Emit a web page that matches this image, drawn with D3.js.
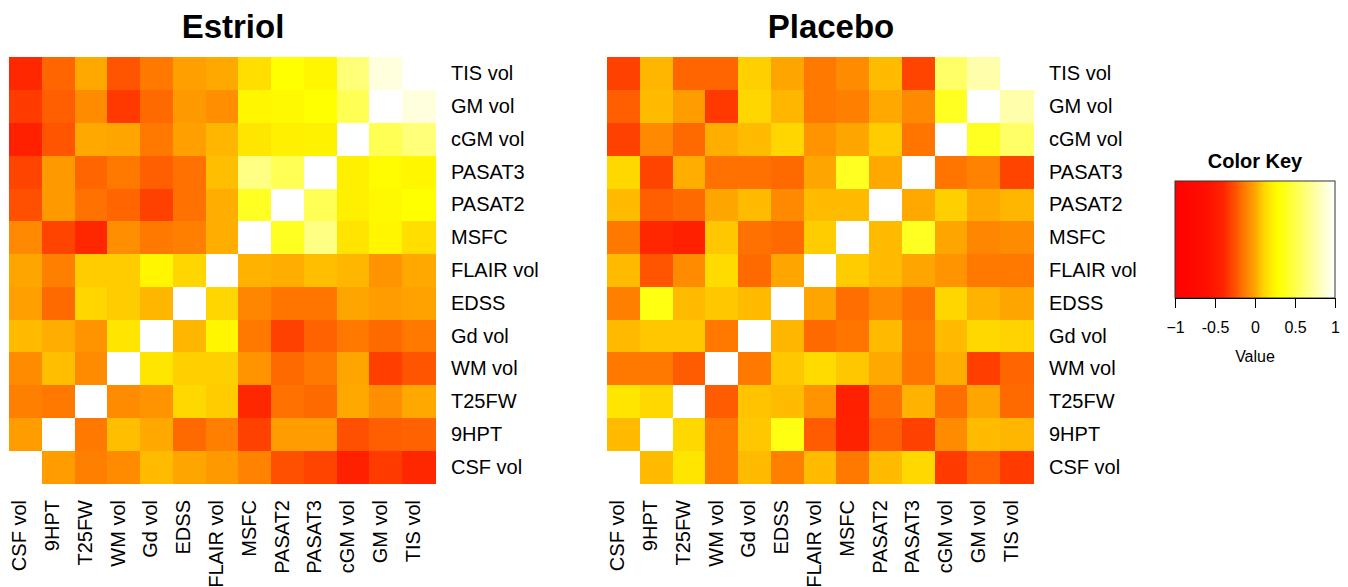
<!DOCTYPE html>
<html>
<head>
<meta charset="utf-8">
<script src="https://cdn.jsdelivr.net/npm/d3@7"></script>
<style>
  body { margin: 0; background: #fff; }
  text { font-family: "Liberation Sans", Arial, Helvetica, sans-serif; fill: #000; }
</style>
</head>
<body>
<div id="chart"></div>
<script>
// variables, in column order (left -> right); rows are drawn bottom -> top
const variables = ["CSF vol", "9HPT", "T25FW", "WM vol", "Gd vol", "EDSS", "FLAIR vol",
  "MSFC", "PASAT2", "PASAT3", "cGM vol", "GM vol", "TIS vol"];

// correlation matrices, row i / col j follow `variables`
const estriol = [
  [1, -0.03, -0.12, -0.08, 0.05, 0.00, -0.04, -0.11, -0.25, -0.29, -0.44, -0.32, -0.39],
  [-0.03, 1, -0.14, 0.06, 0.01, -0.18, -0.12, -0.30, -0.03, -0.03, -0.25, -0.21, -0.20],
  [-0.12, -0.14, 1, -0.08, -0.06, 0.13, 0.09, -0.39, -0.16, -0.18, 0.01, -0.07, 0.01],
  [-0.08, 0.06, -0.08, 1, 0.18, 0.10, 0.10, -0.06, -0.18, -0.14, 0.00, -0.31, -0.24],
  [0.05, 0.02, -0.06, 0.18, 1, 0.04, 0.25, -0.14, -0.30, -0.20, -0.14, -0.18, -0.14],
  [-0.02, -0.18, 0.12, 0.09, 0.04, 1, 0.12, -0.10, -0.15, -0.15, 0.00, -0.03, -0.01],
  [0.00, -0.12, 0.09, 0.09, 0.25, 0.12, 1, 0.03, 0.02, 0.06, 0.04, -0.06, 0.01],
  [-0.09, -0.29, -0.39, -0.07, -0.14, -0.12, 0.02, 1, 0.39, 0.66, 0.17, 0.25, 0.15],
  [-0.25, -0.04, -0.16, -0.19, -0.30, -0.16, 0.02, 0.39, 1, 0.53, 0.22, 0.27, 0.30],
  [-0.29, -0.04, -0.19, -0.14, -0.21, -0.16, 0.06, 0.66, 0.53, 1, 0.22, 0.28, 0.25],
  [-0.44, -0.24, 0.01, 0.00, -0.14, -0.02, 0.04, 0.18, 0.22, 0.23, 1, 0.53, 0.63],
  [-0.32, -0.21, -0.08, -0.33, -0.18, -0.04, -0.07, 0.25, 0.27, 0.30, 0.53, 1, 0.91],
  [-0.39, -0.19, 0.01, -0.24, -0.14, -0.02, 0.01, 0.15, 0.30, 0.25, 0.63, 0.91, 1]
];

const placebo = [
  [1, 0.05, 0.18, -0.14, 0.05, -0.12, 0.05, -0.14, 0.05, 0.13, -0.32, -0.21, -0.32],
  [0.05, 1, 0.13, -0.14, 0.08, 0.35, -0.22, -0.42, -0.21, -0.30, -0.08, 0.05, 0.04],
  [0.18, 0.13, 1, -0.22, 0.07, 0.05, -0.06, -0.44, -0.16, 0.03, -0.17, 0.00, -0.18],
  [-0.14, -0.14, -0.22, 1, -0.14, 0.08, 0.14, 0.08, 0.01, -0.15, 0.02, -0.31, -0.19],
  [0.05, 0.08, 0.08, -0.14, 1, 0.04, -0.18, -0.15, 0.05, -0.14, 0.05, 0.13, 0.11],
  [-0.12, 0.35, 0.05, 0.08, 0.05, 1, 0.00, -0.17, -0.09, -0.16, 0.12, 0.03, 0.00],
  [0.05, -0.24, -0.08, 0.14, -0.18, 0.00, 1, 0.09, 0.05, 0.00, -0.06, -0.14, -0.14],
  [-0.14, -0.39, -0.44, 0.08, -0.16, -0.18, 0.09, 1, 0.05, 0.39, 0.00, -0.10, -0.08],
  [0.05, -0.21, -0.18, 0.00, 0.05, -0.09, 0.05, 0.05, 1, 0.01, 0.10, 0.01, 0.04],
  [0.13, -0.29, 0.02, -0.16, -0.16, -0.18, 0.00, 0.39, 0.01, 1, -0.15, -0.11, -0.29],
  [-0.30, -0.09, -0.18, 0.02, 0.05, 0.12, -0.06, 0.00, 0.09, -0.15, 1, 0.39, 0.58],
  [-0.21, 0.05, -0.03, -0.33, 0.12, 0.04, -0.14, -0.12, 0.01, -0.09, 0.39, 1, 0.77],
  [-0.30, 0.04, -0.19, -0.19, 0.10, 0.00, -0.14, -0.08, 0.05, -0.29, 0.58, 0.77, 1]
];

const panelTitles = ["Estriol", "Placebo"];
const keyTicks = [-1, -0.5, 0, 0.5, 1];
const keyTickLabels = ["\u22121", "-0.5", "0", "0.5", "1"];

// heat-type colour key (red -> orange -> yellow -> white)
const colorScale = d3.scaleLinear()
  .domain([-1, -0.6, -0.4, -0.25, -0.12, 0, 0.1, 0.2, 0.3, 1])
  .range(["#ff0000", "#ff1000", "#ff2400", "#ff5000", "#ff8000", "#ffa500",
          "#ffd000", "#ffec00", "#ffff00", "#ffffff"])
  .clamp(true);

const width = 1348, height = 587;
const svg = d3.select("#chart").append("svg")
  .attr("width", width)
  .attr("height", height);

function drawHeatmap(matrix, title, left) {
  const top = 57, size = 426;
  const g = svg.append("g").attr("transform", `translate(${left},${top})`);

  const x = d3.scaleBand().domain(variables).range([0, size]);
  const y = d3.scaleBand().domain(variables.slice().reverse()).range([0, size]);

  const cells = [];
  matrix.forEach((row, i) => row.forEach((v, j) => cells.push({ row: variables[i], col: variables[j], v })));

  g.selectAll("rect")
    .data(cells)
    .enter()
    .append("rect")
    .attr("x", d => x(d.col))
    .attr("y", d => y(d.row))
    .attr("width", x.bandwidth() + 0.5)
    .attr("height", y.bandwidth() + 0.5)
    .attr("shape-rendering", "crispEdges")
    .attr("fill", d => colorScale(d.v));

  // row labels on the right
  g.selectAll(".rowLabel")
    .data(variables)
    .enter()
    .append("text")
    .attr("class", "rowLabel")
    .attr("x", size + 16)
    .attr("y", d => y(d) + y.bandwidth() / 2 + 7)
    .style("font-size", "20px")
    .text(d => d);

  // column labels below, rotated
  g.selectAll(".colLabel")
    .data(variables)
    .enter()
    .append("text")
    .attr("class", "colLabel")
    .attr("transform", d => `translate(${x(d) + x.bandwidth() / 2 + 1},${size + 17})rotate(-90)`)
    .style("text-anchor", "end")
    .style("font-size", "20px")
    .text(d => d);

  svg.append("text")
    .attr("x", left + size / 2 + 11)
    .attr("y", 38)
    .style("text-anchor", "middle")
    .style("font-size", "33px")
    .style("font-weight", "bold")
    .text(title);
}

drawHeatmap(estriol, panelTitles[0], 9);
drawHeatmap(placebo, panelTitles[1], 607);

// Color key
const key = { left: 1175, right: 1335, top: 181, bottom: 298 };
const xKey = d3.scaleLinear().domain([-1, 1]).range([key.left, key.right]);
const keyG = svg.append("g");

keyG.selectAll("rect.grad")
  .data(d3.range(key.left, key.right, 1))
  .enter()
  .append("rect")
  .attr("class", "grad")
  .attr("x", d => d)
  .attr("y", key.top)
  .attr("width", 1.2)
  .attr("height", key.bottom - key.top)
  .attr("fill", d => colorScale(xKey.invert(d + 0.5)));

keyG.append("rect")
  .attr("x", key.left)
  .attr("y", key.top)
  .attr("width", key.right - key.left)
  .attr("height", key.bottom - key.top)
  .attr("fill", "none")
  .attr("stroke", "#333")
  .attr("stroke-width", 1);

const keyAxis = keyG.append("g")
  .attr("transform", `translate(0,${key.bottom})`)
  .call(d3.axisBottom(xKey)
    .tickValues(keyTicks)
    .tickSize(10)
    .tickSizeOuter(0)
    .tickPadding(14)
    .tickFormat((d, i) => keyTickLabels[i]));
keyAxis.select(".domain").attr("stroke", "#000");
keyAxis.selectAll(".tick line").attr("stroke", "#000");
keyAxis.selectAll("text")
  .style("font-size", "16px")
  .style("font-family", "'Liberation Sans', Arial, sans-serif")
  .attr("fill", "#000");

keyG.append("text")
  .attr("x", (key.left + key.right) / 2)
  .attr("y", 168)
  .style("text-anchor", "middle")
  .style("font-size", "20px")
  .style("font-weight", "bold")
  .text("Color Key");

keyG.append("text")
  .attr("x", (key.left + key.right) / 2)
  .attr("y", 362)
  .style("text-anchor", "middle")
  .style("font-size", "16px")
  .text("Value");
</script>
</body>
</html>
